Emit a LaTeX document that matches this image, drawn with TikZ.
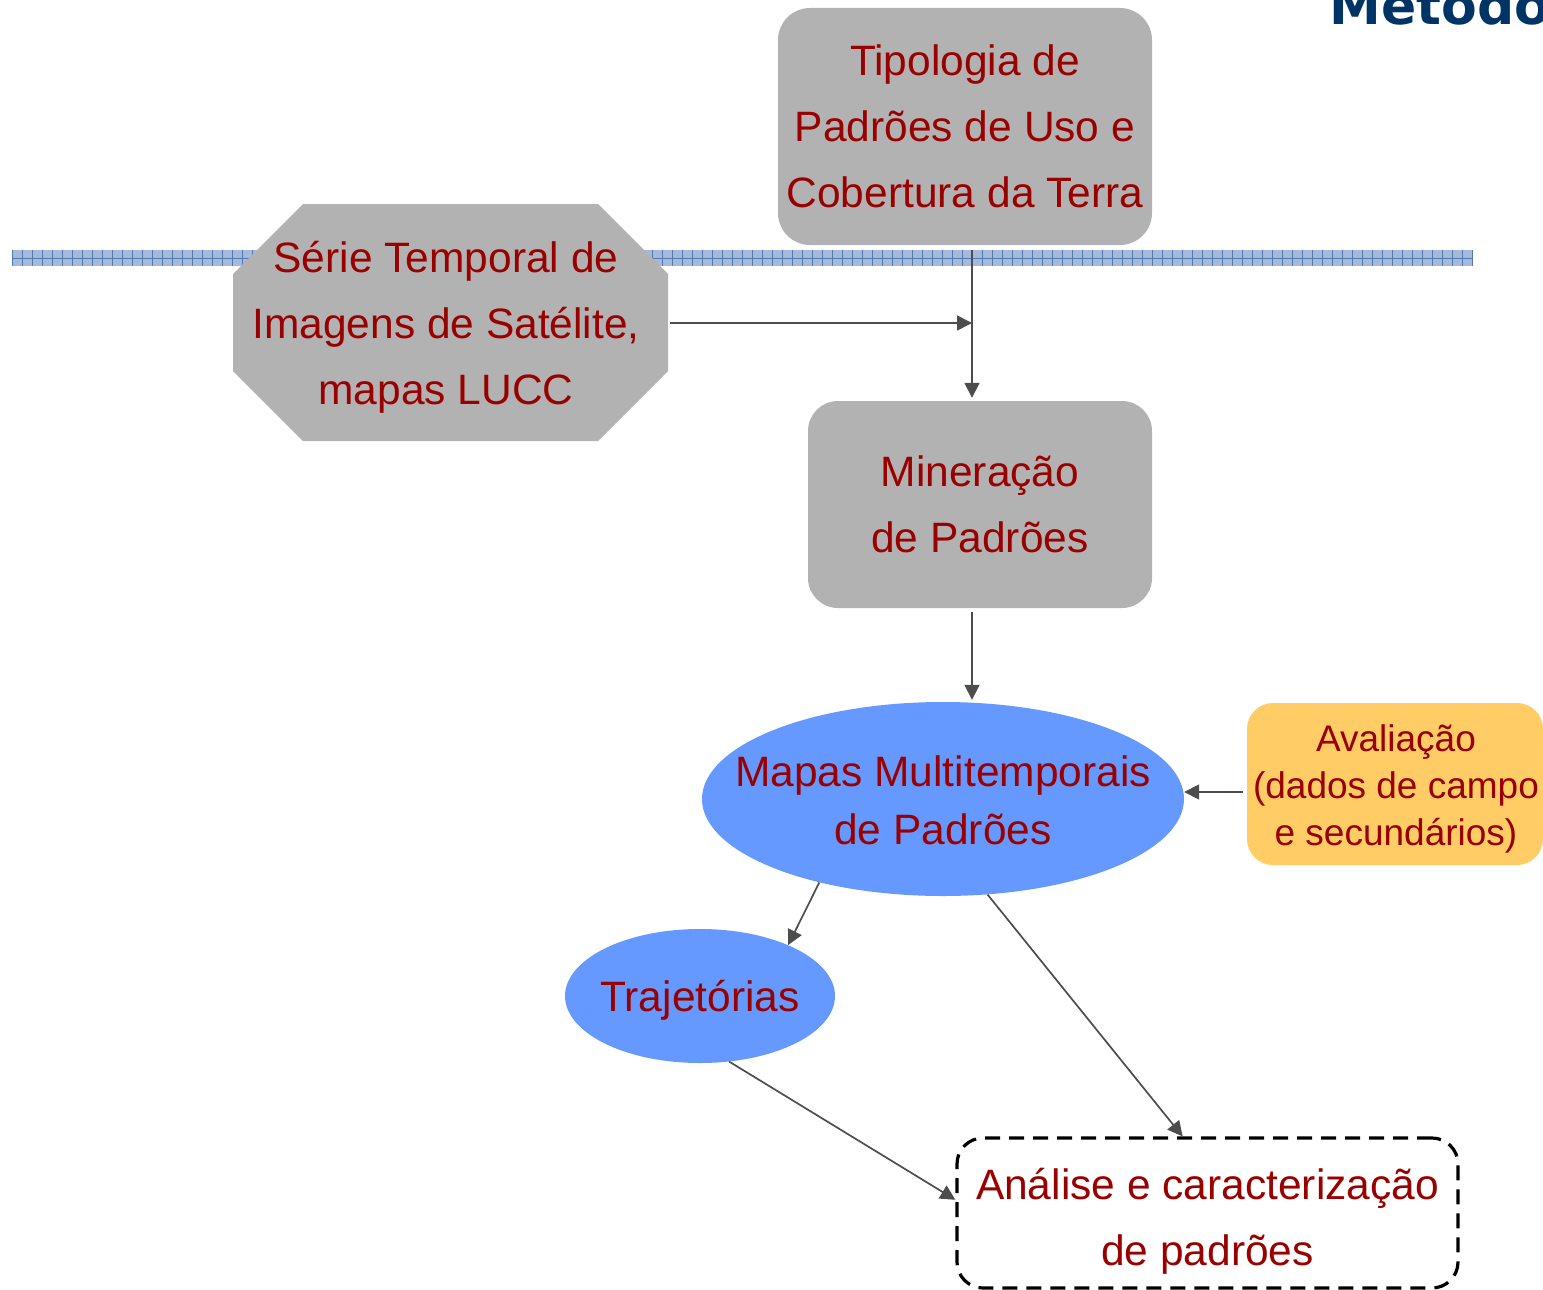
\documentclass[tikz,border=0pt]{standalone}
\usepackage{fontspec}
\setmainfont{Liberation Sans}
\newfontfamily\titlefont{DejaVu Sans}
\usetikzlibrary{arrows.meta, positioning, shapes.geometric}
\definecolor{boxgray}{HTML}{B2B2B2}
\definecolor{txtred}{HTML}{990000}
\definecolor{ellblue}{HTML}{6699FF}
\definecolor{evalorange}{HTML}{FFCC66}
\definecolor{arrowgray}{HTML}{4D4D4D}
\definecolor{bandblue}{HTML}{A4BADB}
\definecolor{bandline}{HTML}{5478B2}
\definecolor{titleblue}{HTML}{003366}

\begin{document}
\begin{tikzpicture}[x=1pt, y=-1pt,
      stage/.style={rectangle, rounded corners=32pt, fill=boxgray, text=txtred, inner sep=0pt,
                    align=center, font=\fontsize{42.5}{66}\selectfont},
      result/.style={ellipse, fill=ellblue, inner sep=0pt},
      lbl/.style={text=txtred, inner sep=0pt, align=center, font=\fontsize{42.5}{66}\selectfont},
      arr/.style={-{Triangle[length=15pt, width=15pt]}, line width=1.7pt, arrowgray}
    ]
      \useasboundingbox (0,0) rectangle (1543,1290);
      % faixa azul ao fundo
      \fill[bandblue] (12,250) rectangle (1473,266);
      \foreach \x in {12,22,...,1472}
        \draw[bandline, line width=0.8pt] (\x,250) -- (\x,266);
      \draw[bandline, line width=0.8pt] (12,258) -- (1473,258);

      \node[font=\titlefont\bfseries\fontsize{52}{54}\selectfont, text=titleblue, anchor=base west]
        (title) at (1326,25) {Metodo};

      \node[stage, minimum width=374pt, minimum height=237pt] (tipo) at (965,126.5)
        {Tipologia de\\Padrões de Uso e\\Cobertura da Terra};
      % octogono das imagens
      \fill[boxgray] (233,274) -- (303,204) -- (598,204) -- (668,274)
        -- (668,371) -- (598,441) -- (303,441) -- (233,371) -- cycle;
      \node[lbl, minimum width=435pt] (serie) at (450.5,322.5) {};
      \node[lbl] (serietxt) at (446,327.5) {Série Temporal de\\Imagens de Satélite,\\mapas LUCC};
      \node[stage, rounded corners=30pt, minimum width=344pt, minimum height=207pt] (miner) at (980,504.5)
        {Mineração\\de Padrões};
      \node[result, minimum width=482pt, minimum height=194pt] (mapas) at (943,799) {};
      \node[lbl, font=\fontsize{42.5}{58}\selectfont] (mapastxt) at (943,800)
        {Mapas Multitemporais\\de Padrões};
      \node[rectangle, rounded corners=26pt, fill=evalorange, minimum width=296pt,
            minimum height=162pt] (aval) at (1395,784) {};
      \node[lbl, font=\fontsize{37}{47}\selectfont] (avaltxt) at (1396,789)
        {Avaliação\\(dados de campo\\e secundários)};
      \node[result, minimum width=270pt, minimum height=134pt] (traj) at (700,996) {};
      \node[lbl] (trajtxt) at (700,1000) {Trajetórias};
      \node[rectangle, rounded corners=26pt, draw=black, line width=3.2pt, dash pattern=on 15pt off 9pt,
            minimum width=501pt, minimum height=150pt] (anal) at (1207.5,1213) {};
      \node[lbl] (analtxt) at (1207.5,1221) {Análise e caracterização\\de padrões};

      \coordinate (join) at (972,323);
      \draw[arr, shorten <=2pt] (serie.east |- join) -- (join);
      \draw[arr, shorten <=5pt, shorten >=3pt] (tipo.south -| join) -- (miner.north -| join);
      \draw[arr, shorten <=4pt, shorten >=2pt] (miner.south -| join) -- (mapas.north -| join);
      \draw[arr, shorten <=4pt] ([yshift=-8pt]aval.west) -- ([yshift=-8pt]aval.west -| mapas.east);
      \draw[arr] (mapas.214) -- (traj.30);
      \draw[arr] (mapas.295) -- (anal.108);
      \draw[arr] (traj.294) -- (anal.177);
    \end{tikzpicture}
\end{document}
